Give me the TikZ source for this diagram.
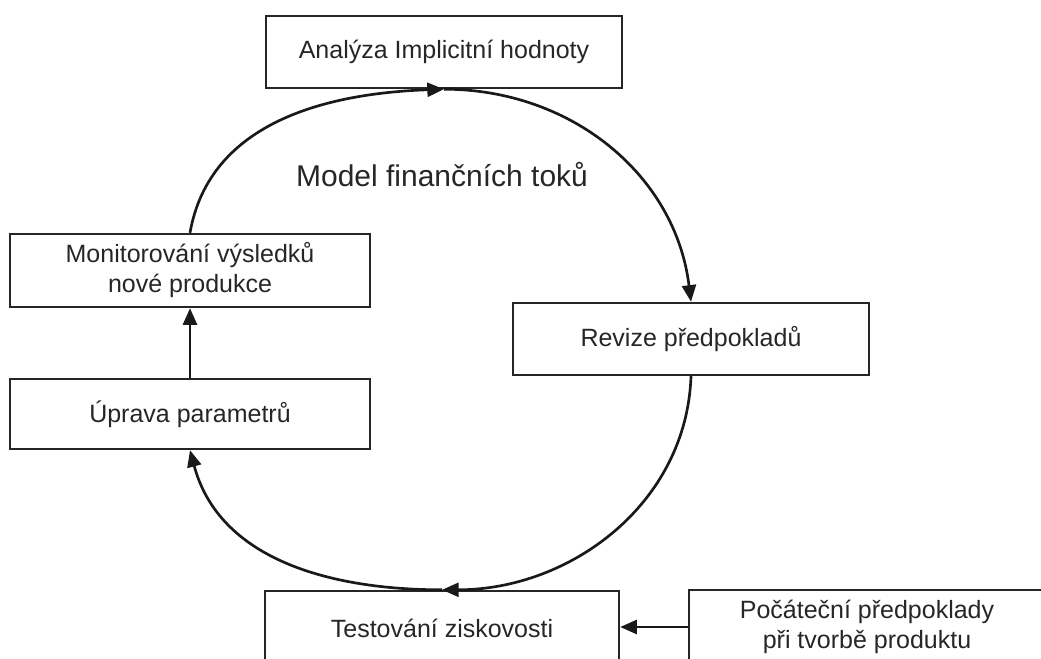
\documentclass[tikz,border=0pt]{standalone}
\usepackage{fontspec}
\setmainfont{Liberation Sans}
\usetikzlibrary{arrows.meta}
\begin{document}
\begin{tikzpicture}[x=0.75pt,y=0.75pt,
  box/.style={draw=black!85, line width=1.8pt, inner sep=0pt, align=center,
    text=black!85, font=\fontsize{18.75}{22.5}\selectfont},
  titletext/.style={text=black!85, font=\fontsize{22.5}{27}\selectfont, inner sep=0pt},
  arc/.style={draw=black!90, line width=2pt, -{Triangle[length=12.5pt,width=10.5pt]}},
  arr/.style={draw=black!90, line width=2pt, -{Triangle[length=12.5pt,width=10.5pt]}}]
\useasboundingbox (0,0) rectangle (1041,658);
\clip (0,0) rectangle (1041,658);
\node[box, minimum width=356*0.75pt, minimum height=72*0.75pt] (A) at (444,606) {Analýza Implicitní hodnoty};
\node[box, minimum width=360*0.75pt, minimum height=73*0.75pt] (M) at (190,387.5) {Monitorování výsledků\\nové produkce};
\node[box, minimum width=360*0.75pt, minimum height=70*0.75pt] (U) at (190,244) {Úprava parametrů};
\node[box, minimum width=356*0.75pt, minimum height=72*0.75pt] (R) at (691,319) {Revize předpokladů};
\node[box, minimum width=354*0.75pt, minimum height=74*0.75pt] (T) at (442,30) {Testování ziskovosti};
\node[box, minimum width=356*0.75pt, minimum height=74*0.75pt] (P) at (867,31) {Počáteční předpoklady\\při tvorbě produktu};
\node[titletext, anchor=base] (title) at (442,471) {Model finančních toků};
\draw[arc] (M.north) to[out=80,in=182] (A.south);
\draw[arc] (A.south) to[out=0,in=97] (R.north);
\draw[arc] (R.south) to[out=-92,in=0] (T.north);
\draw[arc] (T.north) to[out=180,in=-75] (U.south);
\draw[arr] (U.north) -- (M.south);
\draw[arr] (P.west) -- (P.west -| T.east);
\end{tikzpicture}
\end{document}
